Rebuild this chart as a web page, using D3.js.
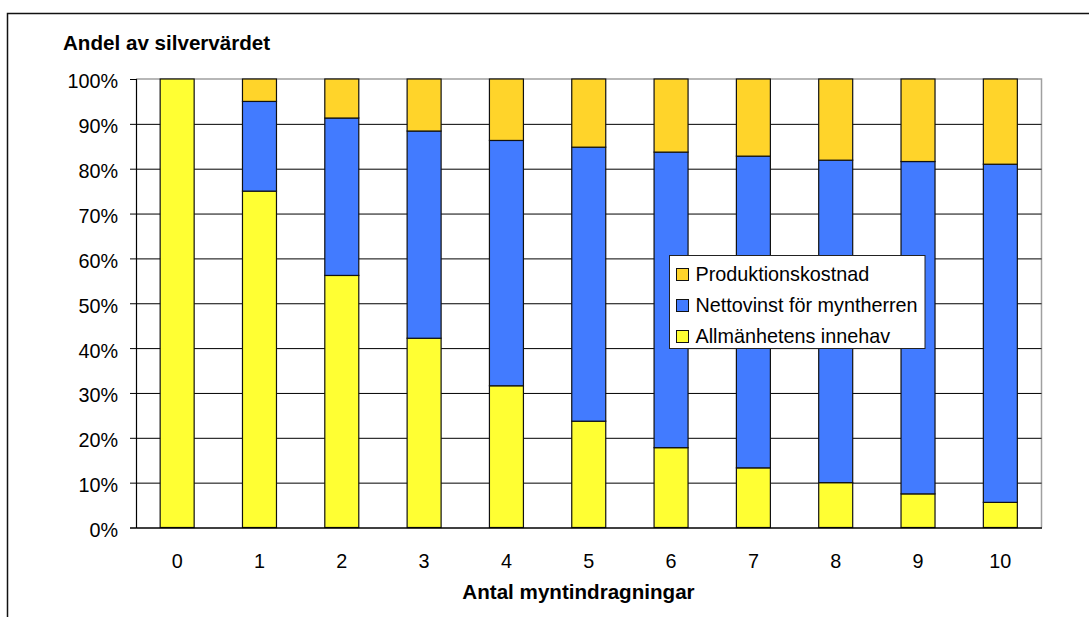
<!DOCTYPE html>
<html>
<head>
<meta charset="utf-8">
<script src="https://cdn.jsdelivr.net/npm/d3@7"></script>
<style>
  body { margin: 0; background: #fff; }
  svg { display: block; }
</style>
</head>
<body>
<div class="canvas"></div>
<script>
// data (percent of silver value)
var rounds = ["0", "1", "2", "3", "4", "5", "6", "7", "8", "9", "10"];
var allmanhet = [100, 75, 56.2, 42.2, 31.6, 23.7, 17.8, 13.3, 10.0, 7.5, 5.6];
var nettovinst = [0, 20, 35.1, 46.2, 54.7, 61.1, 65.9, 69.5, 71.9, 74.1, 75.4];
var produktion = [0, 5, 8.7, 11.6, 13.7, 15.2, 16.3, 17.2, 18.1, 18.4, 19.0];
var yTicks = [0, 10, 20, 30, 40, 50, 60, 70, 80, 90, 100];

var seriesNames = ["Allmänhetens innehav", "Nettovinst för myntherren", "Produktionskostnad"];
var seriesKeys = ["allm", "netto", "prod"];
var colors = { allm: "#FFFF33", netto: "#427BFF", prod: "#FFD42A" };

var svg = d3.select(".canvas").append("svg").attr("width", 1089).attr("height", 617);
var font = "'Liberation Sans', Arial, sans-serif";

plot = { left: 136, right: 1041.5, top: 79, bottom: 527.5 };

// outer frame (runs off the right and bottom edge)
svg.append("path")
    .attr("d", "M7.5,617 V13.5 H1089")
    .attr("fill", "none")
    .attr("stroke", "#111")
    .attr("stroke-width", 1.5);

var x = d3.scaleBand().domain(rounds).range([plot.left, plot.right])
    .paddingInner(0.587).paddingOuter(0.2935);
var y = d3.scaleLinear().domain([0, 100]).range([plot.bottom, plot.top]);

var table = rounds.map(function (r, i) {
    return { round: r, allm: allmanhet[i], netto: nettovinst[i], prod: produktion[i] };
});
var stacked = d3.stack().keys(seriesKeys)(table);

// plot area border top/right
svg.append("path")
    .attr("d", "M" + plot.left + "," + plot.top + " H" + plot.right + " V" + plot.bottom)
    .attr("fill", "none")
    .attr("stroke", "#a0a0a0")
    .attr("stroke-width", 1.5);

// gridlines
svg.append("g")
    .attr("transform", "translate(" + plot.left + ",0)")
    .call(d3.axisLeft(y).tickValues(yTicks.slice(1, -1)).tickSize(-(plot.right - plot.left)).tickFormat(""))
    .call(function (g) { g.select(".domain").remove(); })
    .selectAll("line").attr("stroke", "#000").attr("stroke-width", 1);

// bars
svg.append("g").selectAll("g")
    .data(stacked)
    .join("g")
    .attr("fill", function (d) { return colors[d.key]; })
    .selectAll("rect")
    .data(function (d) { return d.filter(function (v) { return v[1] - v[0] > 0; }); })
    .join("rect")
    .attr("x", function (d) { return x(d.data.round); })
    .attr("y", function (d) { return y(d[1]); })
    .attr("width", x.bandwidth())
    .attr("height", function (d) { return y(d[0]) - y(d[1]); })
    .attr("stroke", "#111")
    .attr("stroke-width", 1.2);

// y axis
var yAxis = svg.append("g")
    .attr("transform", "translate(" + plot.left + ",0)")
    .call(d3.axisLeft(y).tickValues(yTicks).tickSize(6).tickPadding(12)
        .tickFormat(function (d) { return d + "%"; }));
yAxis.select(".domain").attr("stroke", "#000").attr("stroke-width", 1.2);
yAxis.selectAll("line").attr("stroke", "#000");
yAxis.selectAll("text")
    .attr("font-family", font)
    .attr("font-size", "19.8px")
    .attr("fill", "#000")
    .attr("dy", "0.45em");

// x axis
var xAxis = svg.append("g")
    .attr("transform", "translate(0," + plot.bottom + ")")
    .call(d3.axisBottom(x).tickSize(0).tickPadding(26));
xAxis.select(".domain").attr("stroke", "#000").attr("stroke-width", 1.5);
xAxis.selectAll("text")
    .attr("font-family", font)
    .attr("font-size", "19.8px")
    .attr("fill", "#000");

// axis titles
svg.append("text")
    .attr("x", 63)
    .attr("y", 50)
    .text("Andel av silvervärdet")
    .attr("font-family", font)
    .attr("font-weight", "bold")
    .attr("font-size", "20.6px");

svg.append("text")
    .attr("x", 578.5)
    .attr("y", 599)
    .attr("text-anchor", "middle")
    .text("Antal myntindragningar")
    .attr("font-family", font)
    .attr("font-weight", "bold")
    .attr("font-size", "20.6px");

// legend (reverse order, top = last series)
var legend = svg.append("g").attr("transform", "translate(669.5,255.5)");
legend.append("rect")
    .attr("width", 255.5)
    .attr("height", 93)
    .attr("fill", "#fff")
    .attr("stroke", "#222")
    .attr("stroke-width", 1);

var legendKeys = seriesKeys.slice().reverse();
var legendNames = seriesNames.slice().reverse();
legendKeys.forEach(function (k, i) {
    legend.append("rect")
        .attr("x", 7)
        .attr("y", 13 + i * 31)
        .attr("width", 12)
        .attr("height", 12)
        .attr("fill", colors[k])
        .attr("stroke", "#111");
    legend.append("text")
        .attr("x", 26)
        .attr("y", 25 + i * 31)
        .text(legendNames[i])
        .attr("font-family", font)
        .attr("font-size", "19.8px");
});
</script>
</body>
</html>
